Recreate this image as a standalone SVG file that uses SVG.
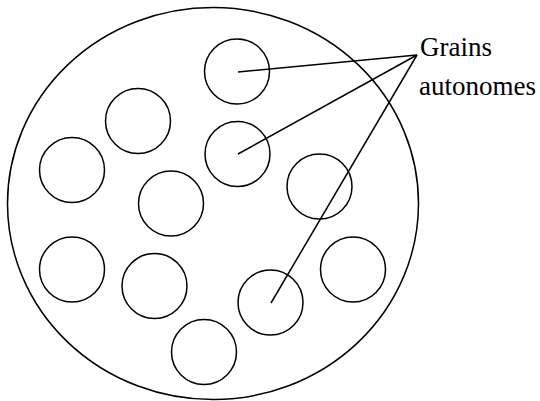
<svg xmlns="http://www.w3.org/2000/svg" width="540" height="401" viewBox="0 0 540 401">
<style>
.s{fill:none;stroke:#000;stroke-width:1.5}
.t{font-family:"Liberation Serif","Times New Roman",serif;font-size:27px;fill:#000}
</style>
<rect width="540" height="401" fill="#fff"/>
<g id="outer"><ellipse class="s" cx="213" cy="203.5" rx="205.5" ry="196"/></g>
<g id="g1"><circle class="s" cx="237" cy="71.5" r="32.5"/></g>
<g id="g2"><circle class="s" cx="138" cy="121" r="32.5"/></g>
<g id="g3"><circle class="s" cx="237.5" cy="154" r="32.5"/></g>
<g id="g4"><circle class="s" cx="72" cy="170" r="32.5"/></g>
<g id="g5"><circle class="s" cx="171" cy="203.5" r="32.5"/></g>
<g id="g6"><circle class="s" cx="319.5" cy="186.5" r="32.5"/></g>
<g id="g7"><circle class="s" cx="72" cy="269.5" r="32.5"/></g>
<g id="g8"><circle class="s" cx="154.5" cy="286" r="32.5"/></g>
<g id="g9"><circle class="s" cx="353" cy="269.5" r="32.5"/></g>
<g id="g10"><circle class="s" cx="270.5" cy="302.5" r="32.5"/></g>
<g id="g11"><circle class="s" cx="204" cy="352" r="32.5"/></g>
<g id="label"><text class="t" x="420" y="56">Grains</text><text class="t" x="419" y="95">autonomes</text></g>
<g id="connectors">
<line class="s" x1="417" y1="55" x2="238" y2="72"/>
<line class="s" x1="417" y1="55" x2="238" y2="154"/>
<line class="s" x1="417" y1="55" x2="271" y2="303"/>
</g>
</svg>
